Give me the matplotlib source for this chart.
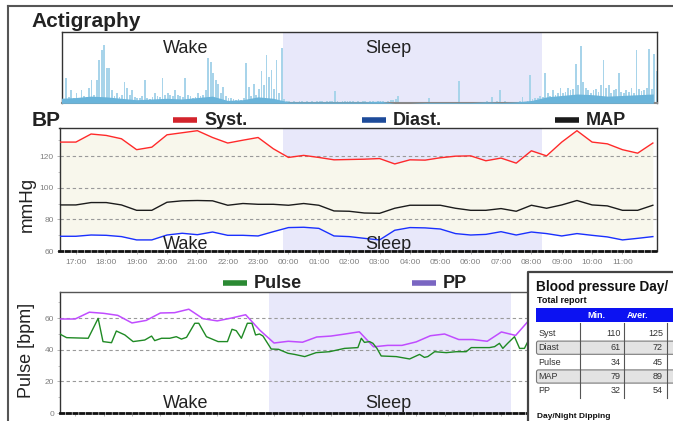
import matplotlib.pyplot as plt
import matplotlib.ticker as mticker
from matplotlib.lines import Line2D
from matplotlib.patches import Rectangle, FancyBboxPatch

plt.rcParams['font.family'] = ['Liberation Sans', 'DejaVu Sans']

W, H = 673, 421

# blood pressure readings (every half hour)
bp_times = ['16:28', '17:00', '17:30', '18:00', '18:30', '19:00', '19:30', '20:00', '20:30', '21:00',
            '21:30', '22:00', '22:30', '23:00', '23:30', '00:00', '00:30', '01:00', '01:30', '02:00',
            '02:30', '03:00', '03:30', '04:00', '04:30', '05:00', '05:30', '06:00', '06:30', '07:00',
            '07:30', '08:00', '08:30', '09:00', '09:30', '10:00', '10:30', '11:00', '11:30', '12:00']
syst = [128.8, 128.8, 133.9, 133.0, 130.9, 124.0, 125.6, 133.4, 134.7, 136.0,
        131.7, 128.2, 130.0, 131.7, 124.6, 119.1, 120.4, 119.1, 117.6, 117.8,
        118.0, 118.4, 115.0, 117.6, 117.4, 118.9, 119.9, 120.1, 117.0, 118.7,
        115.5, 123.3, 120.1, 128.8, 136.0, 128.8, 127.7, 124.0, 121.8, 128.2]
diast = [69.3, 69.3, 70.1, 69.9, 69.1, 67.0, 67.0, 70.1, 71.2, 70.3,
         72.0, 69.9, 69.9, 69.5, 72.2, 74.8, 75.0, 74.3, 69.5, 69.1,
         68.0, 67.0, 73.1, 74.8, 74.6, 73.9, 71.0, 70.1, 70.5, 72.2,
         70.1, 72.0, 71.0, 69.5, 71.0, 69.9, 68.9, 67.0, 68.0, 69.1]
mapv = [89.1, 89.1, 90.6, 90.6, 89.1, 85.7, 85.7, 90.8, 91.7, 91.9,
        91.7, 88.9, 90.0, 89.5, 89.5, 88.9, 90.0, 88.9, 85.3, 85.1,
        84.0, 83.8, 87.0, 88.9, 88.9, 88.9, 87.0, 85.7, 85.7, 86.8,
        85.1, 88.9, 87.0, 89.1, 91.9, 89.1, 88.5, 85.7, 85.7, 88.9]
pp = [59.5, 59.5, 63.8, 63.1, 61.8, 57.0, 58.6, 63.3, 63.5, 65.7,
      59.7, 58.3, 60.1, 62.2, 52.4, 44.3, 45.4, 44.8, 48.1, 48.7,
      50.0, 51.4, 41.9, 42.8, 42.8, 45.0, 48.9, 50.0, 46.5, 46.5,
      45.4, 51.3, 49.1, 59.3, 65.0, 58.9, 58.8, 57.0, 53.8, 59.1]

# pulse readings (hours since midnight of day 1)
pulse_t = [16.45, 16.52, 16.70, 17.46, 17.81, 17.98, 18.28, 18.45, 18.75, 19.04,
           19.45, 19.69, 19.80, 20.04, 20.33, 20.56, 20.74, 20.92, 21.21, 21.35,
           21.62, 22.03, 22.36, 22.52, 22.67, 22.85, 23.06, 23.22, 23.35, 23.49,
           23.61, 23.90, 24.16, 24.49, 24.72, 25.08, 25.48, 25.95, 26.48, 26.95,
           27.07, 27.18, 27.36, 27.48, 27.62, 27.77, 28.30, 28.77, 29.12, 29.29,
           29.41, 29.65, 30.06, 30.41, 30.76, 30.94, 31.58, 31.76, 31.93, 32.05,
           32.22, 32.46, 32.64, 32.81, 32.93]
pulse = [50.4, 49.4, 47.7, 47.3, 59.9, 45.2, 44.5, 51.9, 49.4, 45.2,
         46.2, 48.7, 45.8, 47.3, 47.3, 48.3, 46.8, 47.9, 56.8, 56.8,
         48.3, 45.2, 45.2, 53.0, 52.1, 47.3, 56.8, 56.8, 49.4, 50.0,
         48.7, 40.5, 40.3, 37.8, 37.1, 35.7, 38.2, 38.8, 40.9, 41.4,
         47.3, 44.7, 45.2, 44.1, 40.9, 36.1, 35.7, 34.2, 37.1, 35.2,
         35.7, 38.8, 38.2, 38.8, 38.8, 41.4, 41.4, 42.0, 44.1, 40.9,
         44.1, 48.3, 40.9, 40.9, 45.2]

# actigraphy counts, 5 minute bins from 16:30
act_start = 16.5
activity = [8, 6, 35, 9, 18, 7,
            15, 8, 18, 10, 9, 22, 33, 12, 32, 61, 74, 82,
            50, 50, 18, 10, 14, 9, 12, 30, 22, 12, 18, 9,
            7, 8, 10, 32, 8, 6, 9, 14, 10, 9, 36, 12,
            14, 12, 10, 18, 12, 10, 9, 35, 11, 10, 8, 9,
            14, 10, 12, 18, 63, 57, 43, 32, 27, 15, 23, 10,
            8, 7, 6, 5, 6, 5, 8, 56, 23, 10, 27, 12,
            20, 45, 25, 67, 37, 46, 20, 60, 15, 77, 6, 3,
            3, 2, 3, 2, 3, 3, 2, 3, 2, 3, 2, 3,
            3, 3, 2, 3, 3, 3, 17, 3, 2, 3, 3, 3,
            3, 3, 2, 3, 2, 3, 3, 2, 3, 3, 2, 3,
            3, 3, 2, 3, 4, 5, 6, 10, 2, 1, 0, 1,
            0, 1, 0, 0, 1, 0, 1, 7, 0, 1, 2, 1,
            2, 1, 2, 1, 2, 2, 1, 31, 2, 1, 2, 1,
            1, 0, 1, 2, 1, 2, 3, 2, 9, 2, 3, 19,
            2, 3, 2, 1, 2, 1, 2, 3, 9, 2, 3, 40,
            6, 7, 8, 10, 9, 42, 14, 10, 18, 12, 15, 21,
            14, 16, 22, 18, 20, 55, 25, 80, 30, 22, 18, 15,
            18, 20, 16, 25, 60, 22, 26, 14, 18, 20, 43, 16,
            14, 18, 16, 22, 15, 74, 20, 17, 18, 22, 76, 20,
            69, 45]
# darker base level of activity, half-hour steps from 16:30
act_base = [7, 8, 10, 9, 7, 5, 6, 7, 6, 8, 10, 4, 5, 9, 7,
            2, 2, 2, 2, 2, 2, 3, 0, 0, 1, 1, 1, 1, 2, 1, 2,
            4, 9, 11, 13, 12, 10, 11, 12, 13]

sleep_start = '23:50'
sleep_end = '08:21'

row_names = ['Syst', 'Diast', 'Pulse', 'MAP', 'PP']
row_min = [110, 61, 34, 79, 32]
row_avg = [125, 72, 45, 89, 54]


def hours(s):
    h, m = map(int, s.split(':'))
    if h < 16:
        h += 24
    return h + m / 60


def fx(x):
    return x / W


def fy(y):
    return 1 - y / H


t_bp = [hours(s) for s in bp_times]
s0, s1 = hours(sleep_start), hours(sleep_end)
sleep_col = '#e8e8fa'
grid_kw = dict(color='#9a9a9a', linestyle=(0, (3, 2.5)), linewidth=0.8)

fig = plt.figure(figsize=(W / 100, H / 100), dpi=100)

# ---------- actigraphy ----------
ax_a = fig.add_axes([fx(62), fy(103.3), 595 / W, 71.6 / H])
ax_a.set_xlim(16.556, 36.12)
ax_a.set_ylim(0, 100)
ax_a.axvspan(s0, s1, color=sleep_col, zorder=0, lw=0)
t_act = [act_start + i / 12 for i in range(len(activity))]
ax_a.bar(t_act, activity, width=1 / 12 * 0.7, align='edge', color='#a8d4ea', lw=0, zorder=2)
t_base = [act_start + i / 2 for i in range(len(act_base))]
ax_a.fill_between(t_base, act_base, color='#6ab4da', lw=0, zorder=3)
ax_a.set_xticks([])
ax_a.set_yticks([])
for sp in ax_a.spines.values():
    sp.set_color('#333333')
    sp.set_linewidth(1)
ax_a.spines['bottom'].set_color('#888888')
ax_a.spines['bottom'].set_linewidth(1.5)

# ---------- blood pressure ----------
ax_b = fig.add_axes([fx(59.5), fy(251), 597 / W, 123 / H])
ax_b.set_xlim(16.46, 36.12)
ax_b.set_ylim(60, 137.7)
ax_b.axvspan(s0, s1, color=sleep_col, zorder=0.5, lw=0)
ax_b.fill_between(t_bp, diast, syst, color='#f8f7ec', lw=0, zorder=1)
ax_b.plot(t_bp, syst, color='#ff2a2a', lw=1.0, zorder=3)
ax_b.plot(t_bp, mapv, color='#1c1c1c', lw=1.0, zorder=3)
ax_b.plot(t_bp, diast, color='#1a30ff', lw=1.0, zorder=3)
ax_b.set_yticks([60, 80, 100, 120])
ax_b.yaxis.set_minor_locator(mticker.MultipleLocator(10))
ax_b.set_xticks(range(17, 36))
ax_b.set_xticklabels([f'{h % 24:02d}:00' for h in range(17, 36)])
ax_b.yaxis.grid(True, **grid_kw)

# ---------- pulse ----------
ax_p = fig.add_axes([fx(59.5), fy(413), 559 / W, 120.7 / H])
ax_p.set_xlim(16.45, 36.12)
ax_p.set_ylim(0, 76.4)
ax_p.axvspan(s0, s1, color=sleep_col, zorder=0.5, lw=0)
ax_p.plot(t_bp, pp, color='#c04cff', lw=1.1, zorder=3)
ax_p.plot(pulse_t, pulse, color='#1f8a24', lw=1.0, zorder=3)
ax_p.set_yticks([0, 20, 40, 60])
ax_p.yaxis.set_minor_locator(mticker.MultipleLocator(10))
ax_p.set_xticks(range(17, 36))
ax_p.set_xticklabels([])
ax_p.yaxis.grid(True, **grid_kw)

for ax in (ax_b, ax_p):
    ax.tick_params(axis='both', which='major', labelsize=6, labelcolor='#808080',
                   color='#aaaaaa', length=2.5, width=0.6, pad=1.5)
    ax.tick_params(axis='x', pad=3)
    ax.tick_params(axis='y', which='minor', color='#aaaaaa', length=1.5, width=0.5)
    for side in ('top', 'left', 'right'):
        ax.spines[side].set_color('#333333')
        ax.spines[side].set_linewidth(1)
    ax.spines['bottom'].set_linestyle((0, (1.2, 1.2)))
    ax.spines['bottom'].set_linewidth(2)
    ax.spines['bottom'].set_color('#111111')
ax_p.spines['top'].set_color('#555555')

# ---------- titles, legends, labels ----------
fig.text(fx(31), fy(26.7), 'Actigraphy', fontsize=15, weight='bold', va='baseline', color='#222222')
fig.text(fx(32), fy(125.5), 'BP', fontsize=15, weight='bold', va='baseline', color='#222222')

legend_items = [('Syst.', '#d3242c', 173, 119.7, 125.2),
                ('Diast.', '#1d4b9a', 362, 119.7, 125.2),
                ('MAP', '#1a1a1a', 555, 119.7, 125.2),
                ('Pulse', '#2b8a33', 223, 282.7, 287.8),
                ('PP', '#7a66c2', 412, 282.7, 287.8)]
for label, col, x0, yl, yb in legend_items:
    fig.add_artist(Line2D([fx(x0), fx(x0 + 24)], [fy(yl), fy(yl)], color=col, lw=4,
                          solid_capstyle='butt'))
    fig.text(fx(x0 + 31), fy(yb), label, fontsize=13, weight='bold', va='baseline', color='#222222')

for ys in (53.3, 249.3, 408.3):
    fig.text(fx(163), fy(ys), 'Wake', fontsize=13, va='baseline', color='#222222', zorder=6)
    fig.text(fx(365), fy(ys), 'Sleep', fontsize=13, va='baseline', color='#222222', zorder=6)

fig.text(fx(27.5), fy(204.5), 'mmHg', rotation=90, fontsize=13.5, ha='center', va='center', color='#222222')
fig.text(fx(26.5), fy(350), 'Pulse [bpm]', rotation=90, fontsize=13, ha='center', va='center', color='#222222')

# outer frame
fig.add_artist(Line2D([fx(7.5), fx(7.5)], [fy(5.5), 0], color='#555555', lw=1.5))
fig.add_artist(Line2D([fx(7.5), 1], [fy(5.5), fy(5.5)], color='#555555', lw=1.5))

# ---------- summary table ----------
ax_t = fig.add_axes([fx(528), fy(440), 172 / W, 168 / H])
ax_t.set_zorder(5)
ax_t.set_xlim(528, 700)
ax_t.set_ylim(440, 272)
ax_t.axis('off')
ax_t.add_patch(Rectangle((528, 272), 172, 168, fc='white', ec='none'))
ax_t.plot([528, 528, 700], [440, 272.3, 272.3], color='#444444', lw=1.6, clip_on=False)
ax_t.text(536, 291, 'Blood pressure Day/', fontsize=9.8, weight='bold', va='baseline', color='#111111')
ax_t.text(537, 303, 'Total report', fontsize=6.5, weight='bold', va='baseline', color='#111111')
ax_t.add_patch(Rectangle((536, 307.7), 200, 14.6, fc='#0c12f2', ec='none'))
ax_t.text(596, 315.3, 'Min.', fontsize=6.5, weight='bold', color='white', ha='center', va='center')
ax_t.text(638, 315.3, 'Aver.', fontsize=6.5, weight='bold', color='white', ha='center', va='center')
for i, (name, vmin, vavg) in enumerate(zip(row_names, row_min, row_avg)):
    yc = 333.3 + i * 14.4
    if i % 2 == 1:
        ax_t.add_patch(FancyBboxPatch((536.5, yc - 6.6), 200, 13.2,
                                      boxstyle='round,pad=0,rounding_size=2',
                                      fc='#e3e3e3', ec='#7a7a7a', lw=0.8))
    ax_t.text(538.5, yc, name, fontsize=6.5, va='center', color='#333333')
    ax_t.text(621, yc, str(vmin), fontsize=6.5, va='center', ha='right', color='#333333')
    ax_t.text(663, yc, str(vavg), fontsize=6.5, va='center', ha='right', color='#333333')
for xv in (580, 624, 667):
    ax_t.plot([xv, xv], [322.5, 398], color='#555555', lw=0.8)
ax_t.text(537, 418.5, 'Day/Night Dipping', fontsize=6, weight='bold', va='baseline', color='#111111')

fig.savefig('out.png', dpi=100)
